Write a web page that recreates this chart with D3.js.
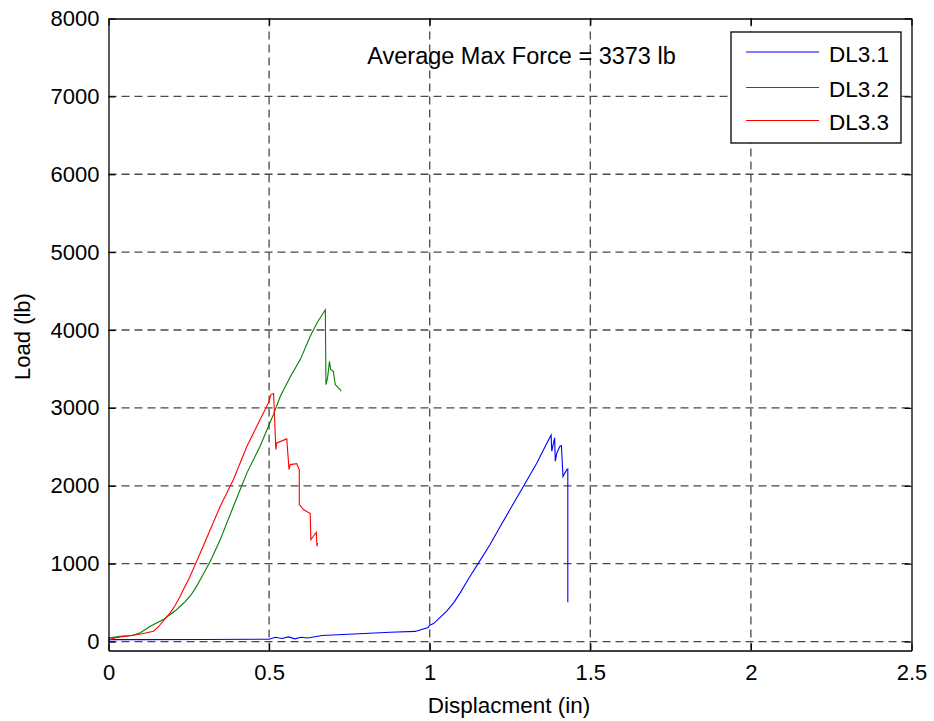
<!DOCTYPE html>
<html>
<head>
<meta charset="utf-8">
<script src="https://cdn.jsdelivr.net/npm/d3@7"></script>
<style>
  body { margin: 0; background: #fff; }
  svg { display: block; font-family: Arial, "Liberation Sans", sans-serif; }
</style>
</head>
<body>
<svg id="chart" width="934" height="721"></svg>
<script>
// ---- data ----
const seriesNames = ["DL3.1", "DL3.2", "DL3.3"];
const xTicks = [0, 0.5, 1, 1.5, 2, 2.5];
const yTicks = [0, 1000, 2000, 3000, 4000, 5000, 6000, 7000, 8000];
const annotation = "Average Max Force = 3373 lb";

const dl31X = [0, 0.003, 0.1, 0.3, 0.5, 0.52, 0.54, 0.56, 0.58, 0.6, 0.62, 0.665, 0.78, 0.877, 0.955, 0.995,
  1.0, 1.012, 1.03, 1.053, 1.075, 1.095, 1.12, 1.152, 1.188, 1.22, 1.25, 1.292, 1.334, 1.365, 1.378, 1.38, 1.389, 1.391, 1.396,
  1.406, 1.41, 1.415, 1.427, 1.43, 1.43];
const dl31Y = [0, 25, 25, 27, 30, 55, 40, 60, 35, 55, 45, 77, 100, 120, 130, 180,
  210, 230, 300, 390, 500, 625, 800, 1010, 1245, 1480, 1695, 1995, 2295, 2550, 2650, 2445, 2615, 2315, 2425,
  2510, 2515, 2120, 2210, 2215, 505];

const dl32X = [0, 0.005, 0.036, 0.073, 0.099, 0.13, 0.171, 0.192, 0.208, 0.223, 0.238, 0.254, 0.27, 0.286, 0.317, 0.348, 0.389,
  0.431, 0.472, 0.498, 0.514, 0.535, 0.566, 0.597, 0.628, 0.649, 0.675, 0.677, 0.682, 0.688, 0.692, 0.7,
  0.706, 0.721, 0.724];
const dl32Y = [25, 47, 68, 77, 112, 196, 282, 347, 395, 453, 510, 582, 680, 796, 1031, 1309, 1737,
  2166, 2507, 2764, 2920, 3150, 3400, 3620, 3919, 4091, 4260, 3299, 3385, 3598, 3492, 3470,
  3299, 3235, 3213];

const dl33X = [0, 0.005, 0.02, 0.036, 0.073, 0.109, 0.14, 0.156, 0.171, 0.192, 0.207, 0.223, 0.254, 0.286, 0.317, 0.348,
  0.389, 0.431, 0.472, 0.498, 0.506, 0.514, 0.521, 0.524, 0.555, 0.562, 0.566, 0.586, 0.594, 0.594,
  0.607, 0.628, 0.63, 0.638, 0.647, 0.649, 0.651];
const dl33Y = [60, 25, 45, 60, 77, 103, 132, 190, 270, 368, 460, 582, 838, 1139, 1438, 1737,
  2080, 2507, 2850, 3064, 3171, 3185, 2465, 2550, 2602, 2208, 2272, 2285, 2208, 1759,
  1695, 1643, 1309, 1352, 1403, 1223, 1267];

const seriesColors = ["#0000ff", "#007f00", "#ff0000"];

// ---- layout ----
const W = 934, H = 721;
const margin = { left: 108.5, right: 22.5, top: 18.5, bottom: 70.5 };
const svg = d3.select("#chart");

const x = d3.scaleLinear().domain([0, 2.5]).range([margin.left, W - margin.right]);
const y = d3.scaleLinear().domain([-115, 8000]).range([H - margin.bottom, margin.top]);

const series = [
  dl31X.map((v, i) => [v, dl31Y[i]]),
  dl32X.map((v, i) => [v, dl32Y[i]]),
  dl33X.map((v, i) => [v, dl33Y[i]])
];

// grid
const grid = svg.append("g");
grid.selectAll("line.gx").data(xTicks.filter(t => t > 0 && t < 2.5)).join("line")
  .attr("x1", d => x(d)).attr("x2", d => x(d))
  .attr("y1", y.range()[0]).attr("y2", y.range()[1])
  .attr("stroke", "#4a4a4a").attr("stroke-width", 1.3).attr("stroke-dasharray", "8,5");
grid.selectAll("line.gy").data(yTicks.filter(t => t < 8000)).join("line")
  .attr("y1", d => y(d)).attr("y2", d => y(d))
  .attr("x1", x.range()[0]).attr("x2", x.range()[1])
  .attr("stroke", "#4a4a4a").attr("stroke-width", 1.3).attr("stroke-dasharray", "8,5");

// lines
const line = d3.line().x(d => x(d[0])).y(d => y(d[1]));
svg.append("g").selectAll("path").data(series).join("path")
  .attr("d", line).attr("fill", "none")
  .attr("stroke", (d, i) => seriesColors[i]).attr("stroke-width", 1.1);

// axes (ticks inward)
const tickLen = 7;
const axB = svg.append("g").attr("transform", `translate(0,${y.range()[0]})`)
  .call(d3.axisBottom(x).tickValues(xTicks).tickSizeInner(-tickLen).tickSizeOuter(0).tickPadding(14).tickFormat(d3.format("")));
const axT = svg.append("g").attr("transform", `translate(0,${y.range()[1]})`)
  .call(d3.axisTop(x).tickValues(xTicks).tickSizeInner(-tickLen).tickSizeOuter(0).tickFormat(""));
const axL = svg.append("g").attr("transform", `translate(${x.range()[0]},0)`)
  .call(d3.axisLeft(y).tickValues(yTicks).tickSizeInner(-tickLen).tickSizeOuter(0).tickPadding(9).tickFormat(d3.format("d")));
const axR = svg.append("g").attr("transform", `translate(${x.range()[1]},0)`)
  .call(d3.axisRight(y).tickValues(yTicks).tickSizeInner(-tickLen).tickSizeOuter(0).tickFormat(""));
[axB, axT, axL, axR].forEach(a => {
  a.selectAll("path.domain").attr("stroke", "#000").attr("stroke-width", 1.3);
  a.selectAll(".tick line").attr("stroke", "#000").attr("stroke-width", 1.2);
  a.selectAll("text").attr("font-size", 22).attr("fill", "#000")
    .attr("font-family", "Arial, 'Liberation Sans', sans-serif");
});

// axis labels
svg.append("text").attr("x", 509).attr("y", 713).attr("text-anchor", "middle")
  .attr("font-size", 22.5).text("Displacment (in)");
svg.append("text").attr("transform", "translate(30,336.5) rotate(-90)").attr("text-anchor", "middle")
  .attr("font-size", 22).text("Load (lb)");

// annotation
svg.append("text").attr("x", 521.5).attr("y", 64).attr("text-anchor", "middle")
  .attr("font-size", 23.5).text(annotation);

// legend
const lg = svg.append("g");
lg.append("rect").attr("x", 731).attr("y", 32).attr("width", 170).attr("height", 111)
  .attr("fill", "#fff").attr("stroke", "#000").attr("stroke-width", 1.3);
const rowY = [52, 87.5, 120.5];
const rows = lg.selectAll("g.row").data(seriesNames).join("g").attr("class", "row");
rows.append("line").attr("x1", 746).attr("x2", 819)
  .attr("y1", (d, i) => rowY[i]).attr("y2", (d, i) => rowY[i])
  .attr("stroke", (d, i) => seriesColors[i]).attr("stroke-width", 1.1);
rows.append("text").attr("x", 829).attr("y", (d, i) => rowY[i] + 9.5)
  .attr("font-size", 22.5).text(d => d);
</script>
</body>
</html>
